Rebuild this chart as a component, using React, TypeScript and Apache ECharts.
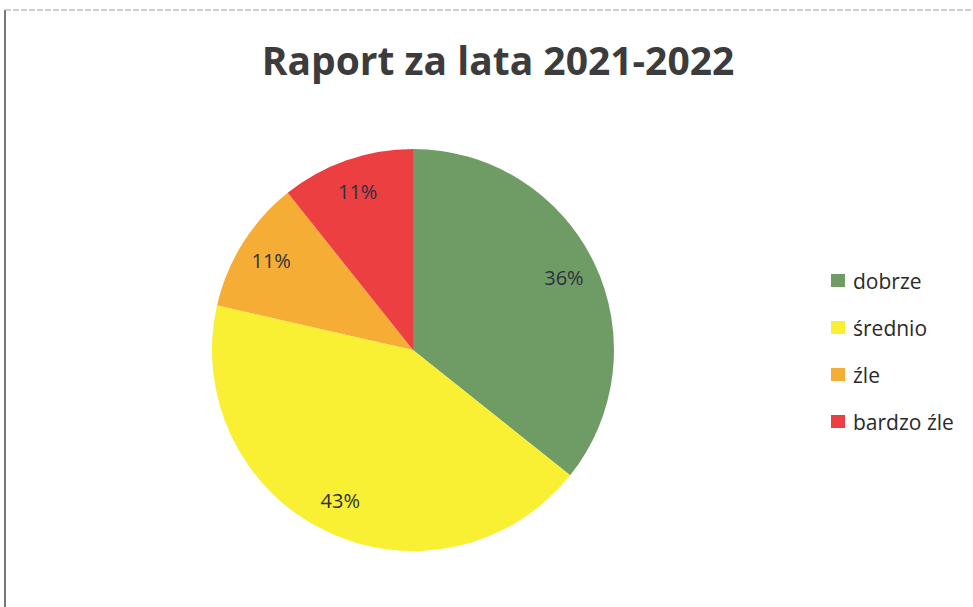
import React, { useEffect, useRef } from "react";
import * as echarts from "echarts";

const titleText = "Raport za lata 2021-2022";
const categories = ["dobrze", "średnio", "źle", "bardzo źle"];
const counts = [10, 12, 3, 3];
const colors = ["#6f9c64", "#f9ef33", "#f6ad35", "#ec3f41"];

export default function App() {
  const ref = useRef<HTMLDivElement>(null);
  useEffect(() => {
    document.body.style.margin = "0";
    const chart = echarts.init(ref.current!, null, { renderer: "svg" });
    const data = categories.map((name, i) => ({
      name,
      value: counts[i],
      itemStyle: { color: colors[i] },
    }));
    const total = counts.reduce((a, b) => a + b, 0);
    chart.setOption({
      animation: false,
      backgroundColor: "#ffffff",
      title: {
        text: titleText,
        left: 493,
        textAlign: "center",
        top: 35,
        textStyle: {
          fontFamily: "Open Sans",
          fontWeight: "bold",
          fontSize: 39,
          color: "#3c3c3c",
        },
      },
      legend: {
        orient: "vertical",
        left: 826,
        top: 265,
        itemWidth: 14,
        itemHeight: 13,
        itemGap: 26,
        icon: "rect",
        data: categories.map((name, i) => ({ name, itemStyle: { color: colors[i] } })),
        textStyle: {
          fontFamily: "Open Sans",
          fontSize: 21,
          color: "#2a2a2a",
          padding: [0, 0, 0, 3],
        },
      },
      graphic: [
        {
          type: "line",
          shape: { x1: 5, y1: 10, x2: 5, y2: 607 },
          style: { stroke: "#4a4a4a", lineWidth: 1.5 },
        },
        {
          type: "line",
          shape: { x1: 5, y1: 10, x2: 973, y2: 10 },
          style: { stroke: "#9a9a9a", lineWidth: 1, lineDash: [6, 2] },
        },
      ],
      series: [
        {
          type: "pie",
          center: [413, 350],
          radius: [0, 201],
          startAngle: 90,
          clockwise: true,
          data,
          label: { show: false },
          labelLine: { show: false },
          emphasis: { disabled: true },
          silent: true,
        },
        {
          type: "pie",
          center: [413, 350],
          radius: [128, 201],
          startAngle: 90,
          clockwise: true,
          data: categories.map((name, i) => ({
            name,
            value: counts[i],
            itemStyle: { color: "rgba(0,0,0,0)" },
          })),
          label: {
            show: true,
            position: "inside",
            formatter: (p: any) => Math.round((p.value / total) * 100) + "%",
            fontFamily: "Open Sans",
            fontSize: 20,
            color: "#2b3140",
          },
          labelLine: { show: false },
          emphasis: { disabled: true },
          silent: true,
        },
      ],
    });
    return () => chart.dispose();
  }, []);
  return <div ref={ref} style={{ width: 973, height: 607 }} />;
}
